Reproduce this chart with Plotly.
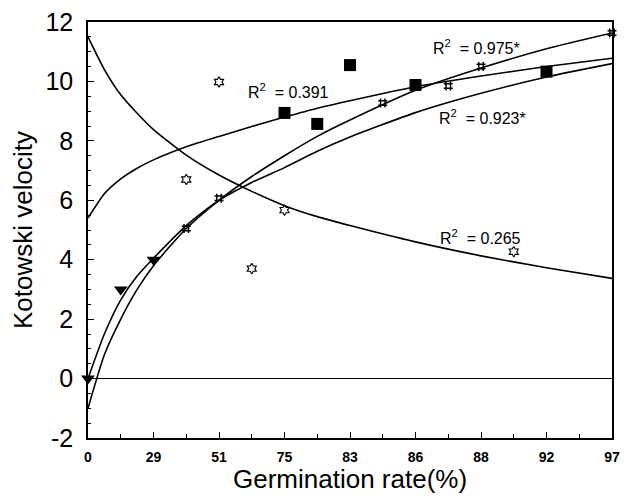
import plotly.graph_objects as go

# ---- axis categories ----
tick_pos = [0, 1, 2, 3, 4, 5, 6, 7, 8]
tick_labels = ["0", "29", "51", "75", "83", "86", "88", "92", "97"]
ytick_vals = [-2, 0, 2, 4, 6, 8, 10, 12]
ytick_text = ["-2", "0", "2", "4", "6", "8", "10", "12"]

# ---- observed points (x in tick-position units) ----
tri_x = [0, 0.5, 1.0]
tri_y = [0.0, 3.0, 4.0]

hash_x = [1.5, 2.0, 4.5, 5.5, 6.0, 8.0]
hash_y = [5.05, 6.07, 9.27, 9.85, 10.5, 11.63]

star_x = [1.5, 2.0, 2.5, 3.0, 6.5]
star_y = [6.7, 9.98, 3.7, 5.67, 4.27]

sq_x = [3.0, 3.5, 4.0, 5.0, 7.0]
sq_y = [8.94, 8.57, 10.55, 9.88, 10.33]

# ---- fitted curves ----
curve_x = [0, 0.25, 0.5, 0.75, 1, 1.5, 2, 2.5, 3, 3.5, 4, 5, 6, 7, 8]
fit_265 = [11.5, 10.4, 9.55, 8.93, 8.38, 7.52, 6.85, 6.3, 5.82, 5.45, 5.15, 4.6, 4.13, 3.73, 3.37]
fit_391 = [5.4, 6.22, 6.72, 7.08, 7.36, 7.8, 8.15, 8.48, 8.8, 9.1, 9.35, 9.82, 10.18, 10.5, 10.78]
fit_975 = [-1.0, 0.8, 2.0, 3.0, 3.8, 5.05, 6.0, 6.8, 7.5, 8.15, 8.7, 9.7, 10.45, 11.1, 11.63]
fit_923 = [0.0, 1.5, 2.65, 3.45, 4.05, 5.15, 6.0, 6.6, 7.1, 7.65, 8.13, 8.95, 9.6, 10.15, 10.6]

r2_labels = ["R<sup>2</sup>  = 0.391", "R<sup>2</sup>  = 0.975*", "R<sup>2</sup>  = 0.923*", "R<sup>2</sup>  = 0.265"]

fig = go.Figure()

line_style = dict(color="black", width=1.6, shape="spline", smoothing=0.6)
for ys in [fit_265, fit_391, fit_975, fit_923]:
    fig.add_trace(go.Scatter(x=curve_x, y=ys, mode="lines", line=line_style,
                             hoverinfo="skip", showlegend=False))

fig.add_trace(go.Scatter(x=tri_x, y=tri_y, mode="markers", cliponaxis=False,
                         marker=dict(symbol="triangle-down", size=12, color="black"),
                         showlegend=False))
fig.add_trace(go.Scatter(x=hash_x, y=hash_y, mode="markers", cliponaxis=False,
                         marker=dict(symbol="hash-open", size=9, color="black",
                                     line=dict(width=1.5, color="black")),
                         showlegend=False))
fig.add_trace(go.Scatter(x=star_x, y=star_y, mode="markers", cliponaxis=False,
                         marker=dict(symbol="hexagram-open", size=8, color="black",
                                     line=dict(width=1.1, color="black")),
                         showlegend=False))
fig.add_trace(go.Scatter(x=sq_x, y=sq_y, mode="markers", cliponaxis=False,
                         marker=dict(symbol="square", size=12, color="black"),
                         showlegend=False))

ann_pos = [(3.06, 9.68), (5.93, 11.16), (6.02, 8.80), (5.99, 4.76)]
for (ax, ay), txt in zip(ann_pos, r2_labels):
    fig.add_annotation(x=ax, y=ay, text=txt, showarrow=False,
                       font=dict(family="Liberation Sans, Arial", size=16, color="black"),
                       xanchor="center", yanchor="middle")

# x-axis title placed below the tick labels
fig.add_annotation(x=0.5, y=0, xref="paper", yref="paper", text="Germination rate(%)",
                   showarrow=False, xanchor="center", yanchor="middle", yshift=-41,
                   font=dict(family="Liberation Sans, Arial", size=26, color="black"))

fig.update_layout(
    width=625, height=488,
    margin=dict(l=80, r=21, t=14, b=58, autoexpand=False),
    paper_bgcolor="white", plot_bgcolor="white",
    font=dict(family="Liberation Sans, Arial", color="black"),
)
fig.update_xaxes(
    range=[0, 8], tickvals=tick_pos, ticktext=tick_labels, automargin=False,
    tickfont=dict(size=14, family="Liberation Sans, Arial", weight="bold"),
    ticks="inside", ticklen=6, tickwidth=1.3, tickcolor="black",
    ticklabelstandoff=5, ticklabeloverflow="allow",
    minor=dict(dtick=0.5, ticks="inside", ticklen=4, tickcolor="black", tickwidth=1.2),
    showline=True, linecolor="black", linewidth=1.6, mirror=True,
    showgrid=False, zeroline=False,
)
fig.update_yaxes(
    range=[-2, 12], tickvals=ytick_vals, ticktext=ytick_text, automargin=False,
    tickfont=dict(size=25, family="Liberation Sans, Arial"),
    ticks="inside", ticklen=6, tickwidth=1.3, tickcolor="black",
    ticklabelstandoff=8, ticklabeloverflow="allow",
    minor=dict(dtick=0.5, ticks="inside", ticklen=3, tickcolor="black", tickwidth=1.1),
    showline=True, linecolor="black", linewidth=1.6, mirror=True,
    showgrid=False, zeroline=True, zerolinecolor="black", zerolinewidth=1.4,
    title=dict(text="Kotowski velocity", font=dict(size=26), standoff=6),
)

fig.write_html("out.html")
